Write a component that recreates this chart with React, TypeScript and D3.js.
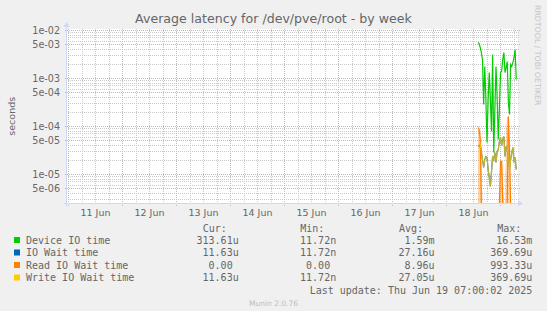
import React from "react";
import * as d3 from "d3";

const W = 547;
const H = 311;

const titleText = "Average latency for /dev/pve/root - by week";
const yAxisTitle = "seconds";
const watermark = "RRDTOOL / TOBI OETIKER";
const footerText = "Munin 2.0.76";
const lastUpdate = "Last update: Thu Jun 19 07:00:02 2025";

const seriesNames = ["Device IO time", "IO Wait time", "Read IO Wait time", "Write IO Wait time"];
const seriesColors = ["#00cc00", "#0066b3", "#ff8000", "#ffcc00"];
const legendHeaders = ["Cur:", "Min:", "Avg:", "Max:"];
const curValues = ["313.61u", "11.63u", "0.00", "11.63u"];
const minValues = ["11.72n", "11.72n", "0.00", "11.72n"];
const avgValues = ["1.59m", "27.16u", "8.96u", "27.05u"];
const maxValues = ["16.53m", "369.69u", "993.33u", "369.69u"];

const dayLabels = ["11 Jun", "12 Jun", "13 Jun", "14 Jun", "15 Jun", "16 Jun", "17 Jun", "18 Jun"];
const yTickValues = [1e-2, 5e-3, 1e-3, 5e-4, 1e-4, 5e-5, 1e-5, 5e-6];
const yTickLabels = ["1e-02", "5e-03", "1e-03", "5e-04", "1e-04", "5e-05", "1e-05", "5e-06"];

// 30-minute samples starting 18 Jun 14:00
const sampleStart = Date.UTC(2025, 5, 18, 14, 0);
const sampleStepMin = 30;

const deviceIO = [
  5.62e-3, 5.36e-3, 4.42e-3, 3.48e-3, 2.49e-3, 2.87e-4, 1.78e-3, 3.65e-4, 4.64e-5, 3.65e-4,
  1.33e-3, 3.65e-4, 7.87e-5, 3.16e-3, 2.87e-5, 2.26e-4, 1.78e-3, 4.22e-4, 5.36e-5, 2.26e-4,
  1.33e-3, 1.40e-3, 2.49e-3, 3.48e-3, 1.33e-3, 1.69e-3, 2.26e-3, 3.16e-4, 1.78e-4, 1.96e-3,
  1.78e-3, 2.15e-3, 2.74e-3, 4.02e-3, 9.53e-4,
];

const ioWait = [
  4.02e-5, 3.83e-5, 4.22e-5, 3.01e-5, 2.05e-5, 1.40e-5, 2.05e-5, 2.37e-5, 2.26e-5, 1.27e-5,
  8.66e-6, 5.62e-6, 1.15e-5, 2.37e-5, 2.05e-5, 2.87e-5, 1.78e-5, 3.01e-5, 3.32e-5, 4.87e-5,
  5.90e-5, 4.02e-5, 5.36e-5, 6.19e-5, 2.37e-5, 3.83e-5, 3.32e-5, 2.61e-5, 1.27e-5, 2.05e-5,
  2.87e-5, 3.65e-5, 1.78e-5, 2.26e-5, 1.27e-5,
];

const readIOWait = [
  9.53e-5, 8.66e-5, 5.36e-5, 0, 0, 0, 0, 0, 0, 0,
  0, 0, 0, 0, 0, 0, 0, 0, 0, 0,
  1.87e-5, 1.87e-5, 0, 0, 0, 0, 0, 1.62e-4, 3.32e-5, 0,
  0, 0, 0, 0, 0,
];

const readIOWaitMax = [
  9.53e-5, 9.53e-5, 8.7e-5, 5.4e-5, 0, 0, 0, 0, 0, 0,
  0, 0, 0, 0, 0, 0, 0, 0, 0, 0,
  1.87e-5, 1.87e-5, 1.5e-5, 0, 0, 9.0e-5, 1.6e-4, 1.62e-4, 3.3e-5, 0,
  0, 0, 0, 0, 0,
];

const writeIOWait = [
  4.02e-5, 3.83e-5, 4.22e-5, 3.01e-5, 2.05e-5, 1.40e-5, 2.05e-5, 2.37e-5, 2.26e-5, 1.27e-5,
  8.66e-6, 5.62e-6, 1.15e-5, 2.37e-5, 2.05e-5, 2.87e-5, 1.78e-5, 3.01e-5, 3.32e-5, 4.87e-5,
  5.90e-5, 4.02e-5, 5.36e-5, 6.19e-5, 2.37e-5, 3.83e-5, 3.32e-5, 2.61e-5, 1.27e-5, 2.05e-5,
  2.87e-5, 3.65e-5, 1.78e-5, 2.26e-5, 1.27e-5,
];

const plotL = 67;
const plotR = 518;
const plotT = 29;
const plotB = 203.5;

const FONT = "'DejaVu Sans', sans-serif";
const MONO = "'DejaVu Sans Mono', monospace";
const TEXT_COLOR = "#666666";
const AXIS_COLOR = "#cfd6f8";
const GRID_COLOR = "#c8c8c8";
const MGRID_COLOR = "#f2a4a4";

const day0 = Date.UTC(2025, 5, 11);
const DAY = 86400000;

export default function App() {
  const x = d3
    .scaleUtc()
    .domain([new Date(day0), new Date(day0 + 8 * DAY)])
    .range([68.5, 500.5]);
  const y = d3.scaleLog().domain([1e-5, 1e-2]).range([174.5, 30.5]);
  const yv = (v: number) => (v > 0 ? Math.min(plotB, Math.max(plotT, y(v))) : plotB);
  const tAt = (i: number) => new Date(sampleStart + i * sampleStepMin * 60000);
  const crisp = (p: number) => Math.round(p - 0.5) + 0.5;

  const hLines: { y: number; major: boolean }[] = [];
  for (let k = -7; k <= -2; k++) {
    for (let m = 1; m <= 9; m++) {
      const v = m * Math.pow(10, k);
      const py = y(v);
      if (py >= plotT && py <= plotB - 1) hLines.push({ y: crisp(py), major: m === 1 || m === 5 });
    }
  }
  const vLines: { x: number; major: boolean }[] = [];
  for (let h = -24; h <= 9 * 24; h += 6) {
    const px = x(new Date(day0 + h * 3600000));
    if (px >= plotL && px <= plotR) vLines.push({ x: crisp(px), major: h % 24 === 0 });
  }

  const line = d3
    .line<number>()
    .x((_, i) => x(tAt(i)))
    .y((d) => yv(d));
  const area = d3
    .area<number>()
    .x((_, i) => x(tAt(i)))
    .y0(plotB)
    .y1((d) => yv(d));

  const legendRows = [243.5, 256, 268.5, 281];
  const colRight = [238.7, 336.2, 434.5, 532.4];
  const headerX = [202.8, 300.3, 399, 497.2];
  const charW = 6.02;
  const cols = [curValues, minValues, avgValues, maxValues];
  const hasUnit = (s: string) => /[a-zA-Z]$/.test(s);

  return (
    <svg width={W} height={H} style={{ display: "block", position: "absolute", left: 0, top: 0 }}>
      <rect x={0} y={0} width={W} height={H} fill="#f0f0f0" />
      <rect x={plotL} y={plotT} width={plotR - plotL} height={plotB - plotT} fill="#ffffff" />

      {hLines.filter((l) => !l.major).map((l, i) => (
        <line key={"hm" + i} x1={plotL - 1} x2={plotR + 1} y1={l.y} y2={l.y} stroke={GRID_COLOR} strokeDasharray="1 1" />
      ))}
      {vLines.filter((l) => !l.major).map((l, i) => (
        <line key={"vm" + i} x1={l.x} x2={l.x} y1={plotT} y2={plotB + 1} stroke={GRID_COLOR} strokeDasharray="1 1" />
      ))}
      {hLines.filter((l) => l.major).map((l, i) => (
        <line key={"hM" + i} x1={plotL - 2} x2={plotR + 2} y1={l.y} y2={l.y} stroke={MGRID_COLOR} strokeDasharray="1 1" />
      ))}
      {vLines.filter((l) => l.major).map((l, i) => (
        <line key={"vM" + i} x1={l.x} x2={l.x} y1={plotT} y2={plotB + 2.5} stroke={MGRID_COLOR} strokeDasharray="1 1" />
      ))}

      <defs>
        <clipPath id="plotclip">
          <rect x={plotL} y={plotT} width={plotR - plotL} height={plotB - plotT + 1} />
        </clipPath>
      </defs>
      <g clipPath="url(#plotclip)">
        <path d={area(readIOWaitMax) || ""} fill="#ff8000" fillOpacity={0.35} />
        <path d={line(deviceIO) || ""} fill="none" stroke={seriesColors[0]} strokeWidth={1.2} />
        <path d={line(ioWait) || ""} fill="none" stroke={seriesColors[1]} strokeWidth={1.2} />
        <path d={line(readIOWait) || ""} fill="none" stroke={seriesColors[2]} strokeWidth={1.2} />
        <path d={line(writeIOWait) || ""} fill="none" stroke={seriesColors[3]} strokeWidth={1.2} strokeOpacity={0.75} />
      </g>

      <line x1={plotL - 3} x2={plotR + 1} y1={plotB} y2={plotB} stroke={AXIS_COLOR} />
      <path d={`M${plotR},${plotB - 3}L${plotR + 5},${plotB}L${plotR},${plotB + 3}Z`} fill={AXIS_COLOR} />
      <line x1={66.5} x2={66.5} y1={plotB + 3} y2={plotT - 2} stroke={AXIS_COLOR} />
      <path d={`M63.5,${plotT - 2}L66.5,${plotT - 7}L69.5,${plotT - 2}Z`} fill={AXIS_COLOR} />

      {yTickValues.map((v, i) => (
        <text key={"yt" + i} x={60} y={crisp(y(v)) + 3.5} textAnchor="end" fontFamily={FONT} fontSize={9.6} fill={TEXT_COLOR}>
          {yTickLabels[i]}
        </text>
      ))}
      {dayLabels.map((lab, i) => (
        <text key={"xt" + i} x={x(new Date(day0 + i * DAY + DAY / 2))} y={215.5} textAnchor="middle" fontFamily={FONT} fontSize={9.5} fill={TEXT_COLOR}>
          {lab}
        </text>
      ))}

      <text x={W / 2} y={22.5} textAnchor="middle" fontFamily={FONT} fontSize={12.6} fill={TEXT_COLOR}>
        {titleText}
      </text>
      <text transform={`translate(14.5,${(plotT + plotB) / 2}) rotate(-90)`} textAnchor="middle" fontFamily={FONT} fontSize={9.5} fill={TEXT_COLOR}>
        {yAxisTitle}
      </text>
      <text transform={`translate(534.5,5) rotate(90)`} textAnchor="start" fontFamily={FONT} fontSize={7.8} fill="#c4c4c4">
        {watermark}
      </text>

      {legendHeaders.map((h, i) => (
        <text key={"lh" + i} x={headerX[i]} y={231.8} fontFamily={MONO} fontSize={10} fill={TEXT_COLOR}>
          {h}
        </text>
      ))}
      {seriesNames.map((name, r) => (
        <g key={"lr" + r}>
          <rect x={14} y={legendRows[r] - 6.5} width={6} height={6} fill={seriesColors[r]} />
          <text x={26} y={legendRows[r]} fontFamily={MONO} fontSize={10} fill={TEXT_COLOR}>
            {name}
          </text>
          {cols.map((col, c) => (
            <text
              key={"lv" + c}
              x={colRight[c] - (hasUnit(col[r]) ? 0 : charW)}
              y={legendRows[r]}
              textAnchor="end"
              fontFamily={MONO}
              fontSize={10}
              fill={TEXT_COLOR}
            >
              {col[r]}
            </text>
          ))}
        </g>
      ))}
      <text x={532.4} y={293.5} textAnchor="end" fontFamily={MONO} fontSize={10} fill={TEXT_COLOR}>
        {lastUpdate}
      </text>
      <text x={W / 2} y={305.5} textAnchor="middle" fontFamily={FONT} fontSize={7.5} fill="#bdbdbd">
        {footerText}
      </text>
    </svg>
  );
}
